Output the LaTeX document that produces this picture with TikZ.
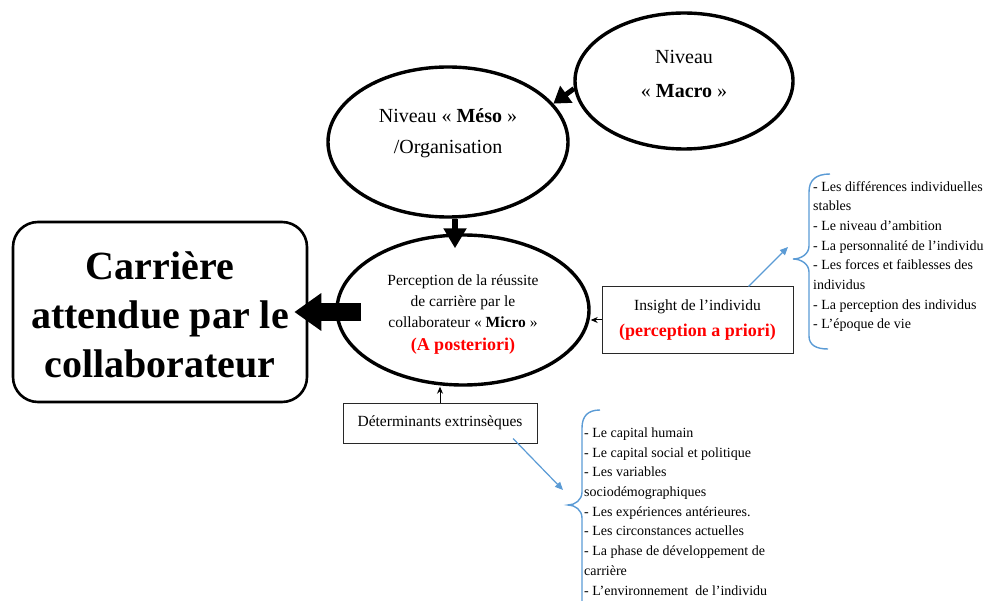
\documentclass[tikz,border=0pt]{standalone}
\usepackage{fontspec}
\setmainfont{Liberation Serif}
\usetikzlibrary{shapes.geometric,arrows.meta,calc}
\definecolor{bracecol}{RGB}{91,155,213}
\definecolor{boxline}{RGB}{40,40,40}
\begin{document}
\begin{tikzpicture}[x=1pt,y=-1pt,
  ell/.style={ellipse, draw=black, line width=3.4pt, inner sep=0pt},
  ellfont/.style={font=\fontsize{20}{31}\selectfont, align=center},
  smallbox/.style={rectangle, draw=boxline, line width=1pt, inner sep=0pt, align=center,
     font=\fontsize{15.5}{20.5}\selectfont},
  listtext/.style={anchor=north west, inner sep=0pt, align=left,
     font=\fontsize{14}{19.7}\selectfont},
  bracepath/.style={draw=bracecol, line width=1.4pt},
  bluearrow/.style={draw=bracecol, line width=1.2pt, -{Triangle[length=8pt,width=7pt]}},
  thinarrow/.style={draw=black, line width=1pt, -{Stealth[length=7pt,width=6pt]}}]
\useasboundingbox (0,0) rectangle (987,601);

% ellipses
\node[ell, minimum width=218pt, minimum height=136pt,
      label={[ellfont, yshift=7pt, font=\fontsize{20}{34}\selectfont]center:{Niveau\\«~\textbf{Macro}~»}}]
      (macro) at (684,81) {};
\node[ell, minimum width=240pt, minimum height=150pt,
      label={[ellfont, yshift=8.5pt]center:{Niveau «~\textbf{Méso}~»\\/Organisation}}]
      (meso) at (448,142) {};
\node[ell, minimum width=252pt, minimum height=150pt,
      label={[align=center, yshift=-4.5pt, font=\fontsize{15.5}{21}\selectfont]center:{Perception de la réussite\\de carrière par le\\collaborateur «~\textbf{Micro}~»\\[1.5pt]{\fontsize{18}{22}\selectfont\bfseries\color{red}(A posteriori)}}}]
      (micro) at (463,310) {};

% career box
\node[rectangle, rounded corners=25pt, draw=black, line width=2.6pt,
      minimum width=294pt, minimum height=180pt, inner sep=0pt,
      label={[align=center, yshift=-3pt, font=\fontsize{40}{49}\selectfont\bfseries]center:{Carrière\\attendue par le\\collaborateur}}]
      (career) at (160,312) {};

% small boxes
\node[smallbox, minimum width=191pt, minimum height=66pt] (insight) at (697.5,320)
  {Insight de l’individu\\[5pt]{\fontsize{18}{22}\selectfont\bfseries\color{red}(perception a priori)}};
\node[smallbox, minimum width=194pt, minimum height=40pt] (det) at (440,423)
  {Déterminants extrinsèques};

% lists
\node[listtext] (list1) at (813,181) {- Les différences individuelles\\stables\\- Le niveau d’ambition\\- La personnalité de l’individu\\- Les forces et faiblesses des\\individus\\- La perception des individus\\- L’époque de vie};
\node[listtext] (list2) at (584,427.5) {- Le capital humain\\- Le capital social et politique\\- Les variables\\sociodémographiques\\- Les expériences antérieures.\\- Les circonstances actuelles\\- La phase de développement de\\carrière\\- L’environnement~ de l’individu};

% braces
\path[bracepath] (830,174) .. controls (816,174) and (809,180) .. (809,192) -- (809,246)
  .. controls (809,254) and (801,259) .. (793,259)
  .. controls (801,259) and (809,264) .. (809,272) -- (809,336)
  .. controls (809,345) and (816,349) .. (828,349);
\path[bracepath] (600,410) .. controls (588,410) and (582,416) .. (582,428) -- (582,492)
  .. controls (582,500) and (575,505) .. (568,505)
  .. controls (575,505) and (582,510) .. (582,518) -- (582,605);

\coordinate (rtip) at (788,247);
\coordinate (btip) at (563,490);

% connectors
\draw[line width=5pt, -{Triangle[length=16pt,width=20pt]}] (macro.184) -- (meso.20);
\draw[line width=6pt, -{Triangle[length=20pt,width=22pt]}] ($(meso.south)+(7,0)$) -- ($(micro.north)+(-8,15)$);
\draw[line width=18pt, -{Triangle[length=27pt,width=36pt]}] ($(career.east -| micro.west)+(26,0)$) -- ($(career.east)+(-14,0)$);
\draw[thinarrow] (insight.west) -- (insight.west -| micro.east);
\draw[thinarrow] (det.north) -- (det.north |- micro.south);
\draw[bluearrow] ($(insight.north)+(51,0)$) -- (rtip);
\draw[bluearrow] ($(det.south)+(73,-5)$) -- (btip);
\end{tikzpicture}
\end{document}
